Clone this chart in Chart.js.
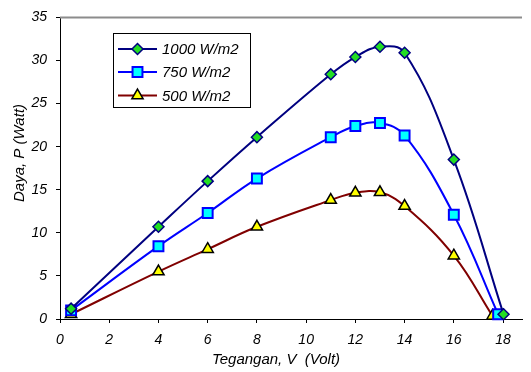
<!DOCTYPE html>
<html>
<head>
<meta charset="utf-8">
<script src="https://cdn.jsdelivr.net/npm/chart.js@4/dist/chart.umd.min.js"></script>
<style>
html,body{margin:0;padding:0;background:#fff;}
#wrap{width:531px;height:372px;}
</style>
</head>
<body>
<div id="wrap"><canvas id="c" width="531" height="372"></canvas></div>
<script>
// Data
const seriesLabels = ['1000 W/m2', '750 W/m2', '500 W/m2'];
const volt1000 = [0.45, 4, 6, 8, 11, 12, 13, 14, 16, 18.02];
const power1000 = [1.2, 10.7, 16.0, 21.1, 28.4, 30.4, 31.6, 30.9, 18.5, 0.55];
const volt750 = [0.45, 4, 6, 8, 11, 12, 13, 14, 16, 17.8];
const power750 = [1.0, 8.45, 12.3, 16.3, 21.1, 22.4, 22.75, 21.3, 12.1, 0.55];
const volt500 = [0.45, 4, 6, 8, 11, 12, 13, 14, 16, 17.57];
const power500 = [0.55, 5.5, 8.1, 10.7, 13.8, 14.65, 14.7, 13.1, 7.35, 0.35];
const xTitle = 'Tegangan, V  (Volt)';
const yTitle = 'Daya, P (Watt)';

const toPts = (xs, ys) => xs.map((x, i) => ({x: x, y: ys[i]}));
const FONT = '"Liberation Sans", Arial, sans-serif';

const styles = [
  {line: '#000080', fill: '#22dd22', border: '#000080', pointStyle: 'rectRot', radius: 5.5, bw: 1.5},
  {line: '#0000ff', fill: '#00ffff', border: '#0000ff', pointStyle: 'rect', radius: 7, bw: 2},
  {line: '#800000', fill: '#ffff00', border: '#000000', pointStyle: 'triangle', radius: 6.5, bw: 1.5}
];
const dataSets = [toPts(volt1000, power1000), toPts(volt750, power750), toPts(volt500, power500)];

const datasets = dataSets.map((d, i) => ({
  label: seriesLabels[i],
  data: d,
  showLine: true,
  tension: 0.4,
  borderColor: styles[i].line,
  borderWidth: 2,
  pointStyle: styles[i].pointStyle,
  pointRadius: styles[i].radius,
  pointBackgroundColor: styles[i].fill,
  pointBorderColor: styles[i].border,
  pointBorderWidth: styles[i].bw,
  clip: false
}));

const extras = {
  id: 'extras',
  afterDraw(chart) {
    const ctx = chart.ctx;
    const a = chart.chartArea;
    ctx.save();
    // top border of plot area
    ctx.strokeStyle = '#8c8c8c';
    ctx.lineWidth = 2;
    ctx.beginPath();
    ctx.moveTo(a.left, a.top);
    ctx.lineTo(a.right, a.top);
    ctx.stroke();
    // axis titles
    ctx.fillStyle = '#000';
    ctx.font = 'italic 15px ' + FONT;
    ctx.textAlign = 'center';
    ctx.textBaseline = 'middle';
    ctx.fillText(xTitle, 276, 360);
    ctx.translate(20, 153);
    ctx.rotate(-Math.PI / 2);
    ctx.fillText(yTitle, 0, 0);
    ctx.restore();

    // legend box
    ctx.save();
    const bx = 113.5, by = 33.5, bw = 137, bh = 74;
    ctx.fillStyle = '#fff';
    ctx.fillRect(bx, by, bw, bh);
    ctx.strokeStyle = '#000';
    ctx.lineWidth = 1;
    ctx.strokeRect(bx, by, bw, bh);
    const rows = [49, 72, 95.5];
    chart.data.datasets.forEach((ds, i) => {
      const y = rows[i];
      ctx.strokeStyle = ds.borderColor;
      ctx.lineWidth = 2;
      ctx.beginPath();
      ctx.moveTo(118, y);
      ctx.lineTo(157, y);
      ctx.stroke();
      ctx.fillStyle = ds.pointBackgroundColor;
      ctx.strokeStyle = ds.pointBorderColor;
      ctx.lineWidth = ds.pointBorderWidth;
      Chart.helpers.drawPoint(ctx, {pointStyle: ds.pointStyle, radius: ds.pointRadius, borderWidth: ds.pointBorderWidth}, 137.5, y);
      ctx.fillStyle = '#000';
      ctx.font = 'italic 15px ' + FONT;
      ctx.textAlign = 'left';
      ctx.textBaseline = 'middle';
      ctx.fillText(ds.label, 162, y + 1);
    });
    ctx.restore();
  }
};

new Chart(document.getElementById('c'), {
  type: 'scatter',
  data: {datasets: datasets},
  options: {
    responsive: false,
    animation: false,
    layout: {padding: {left: 0, right: 0, top: 16, bottom: 0}},
    plugins: {legend: {display: false}, tooltip: {enabled: false}},
    scales: {
      x: {
        type: 'linear',
        min: 0,
        max: 18.77,
        afterFit(s) { s.height = 53; },
        border: {display: true, color: '#000', width: 1},
        grid: {drawOnChartArea: false, drawTicks: true, tickLength: 4, color: '#000'},
        ticks: {stepSize: 2, includeBounds: false, color: '#000', padding: 9,
                font: {family: FONT, size: 14, style: 'italic'}, maxRotation: 0}
      },
      y: {
        type: 'linear',
        min: 0,
        max: 35,
        afterFit(s) { s.width = 60; },
        border: {display: true, color: '#000', width: 1},
        grid: {drawOnChartArea: false, drawTicks: true, tickLength: 4, color: '#000'},
        ticks: {stepSize: 5, color: '#000', padding: 9,
                font: {family: FONT, size: 14, style: 'italic'}}
      }
    }
  },
  plugins: [extras]
});
</script>
</body>
</html>
